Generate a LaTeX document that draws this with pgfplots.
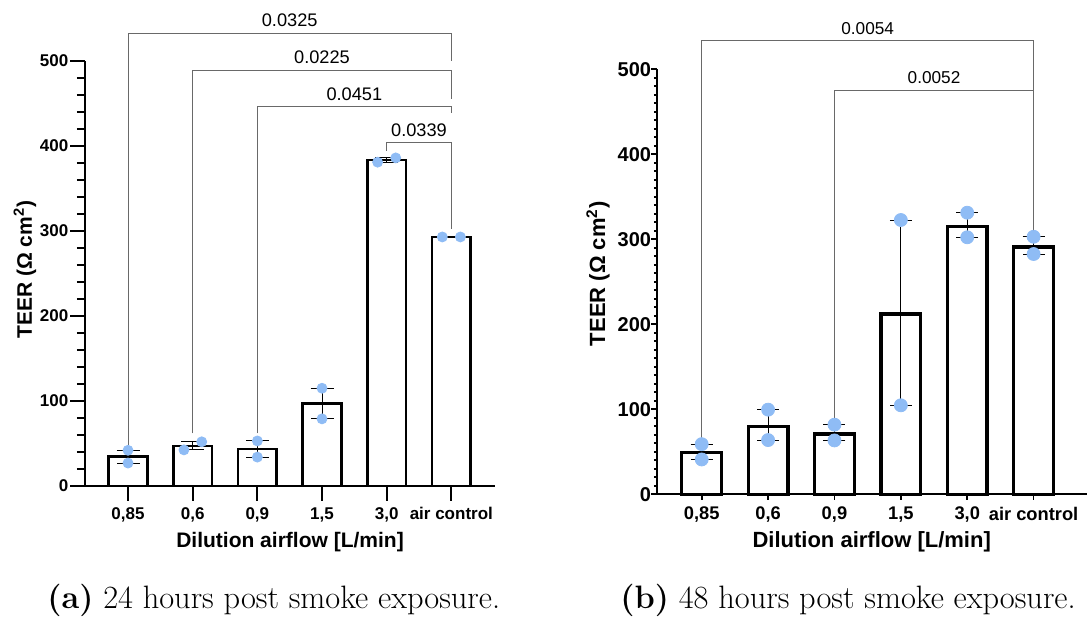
\documentclass[border=0pt]{standalone}
\usepackage{fontspec}
\newfontfamily\arial{Liberation Sans}
\usepackage{pgfplots}
\pgfplotsset{compat=1.18}
\definecolor{dot}{RGB}{143,188,245}
\definecolor{brk}{RGB}{105,105,105}
\begin{document}
\begin{tikzpicture}
\useasboundingbox (0,0) rectangle (544pt,308.5pt);
% ---------------- panel (a) ----------------
\begin{axis}[
  at={(42.5pt,65.5pt)}, anchor=south west,
  scale only axis, width=205pt, height=212.5pt,
  xmin=-0.665, xmax=5.675, ymin=0, ymax=500,
  axis x line*=bottom, axis y line*=left,
  axis line style={line width=1pt, -},
  tick align=outside,
  every tick/.style={black, line width=1pt},
  major tick length=7.3pt, minor tick length=4pt,
  xtick={0,1,2,3,4,5},
  xticklabels={{0,85},{0,6},{0,9},{1,5},{3,0},{air control}},
  ytick={0,100,200,300,400,500},
  yticklabels={0,100,200,300,400,500},
  minor y tick num=4,
  ticklabel style={font=\arial\bfseries\fontsize{8.5}{10}\selectfont},
  yticklabel style={xshift=2.5pt},
  xlabel={Dilution airflow [L/min]},
  ylabel={TEER (Ω cm\textsuperscript{2})},
  label style={font=\arial\bfseries\fontsize{10.5}{12}\selectfont},
  xlabel style={at={(axis description cs:0.5,0)}, anchor=center, yshift=-28.2pt},
  ylabel style={at={(axis description cs:-0.1463,0.509)}, anchor=center},
  clip=false,
]
\addplot[ybar, bar width=0.6, fill=white, draw=black, line width=1.35pt, line join=miter]
  coordinates {(0,34.5) (1,47) (2,43.5) (3,97) (4,383.5) (5,293)};
\addplot[draw=none, mark=none, error bars/.cd, y dir=both, y explicit,
  error mark=-, error bar style={draw=black, line width=0.5pt},
  error mark options={draw=black, line width=0.5pt, mark size=5.75pt, rotate=90}]
  coordinates {(0,34.5) += (0,7.5) -= (0,7.5)
               (1,47) += (0,5) -= (0,4.5)
               (2,43.5) += (0,9.5) -= (0,9.5)
               (3,97) += (0,18) -= (0,18)
               (4,383.5) += (0,2.5) -= (0,2.5)
               (5,293) += (0,0.5) -= (0,0.5)};
\addplot[only marks, mark=*, mark size=2.5pt, color=dot]
  coordinates {(0,42) (0,27) (0.865,42.5) (1.14,52) (2,53) (2,34) (3,115) (3,79)
               (3.86,381) (4.14,386) (4.86,293) (5.14,293)};
% brackets
\addplot[brk, line width=0.5pt, mark=none] coordinates {(0,48) (0,532.6) (5,532.6) (5,499.6)};
\addplot[brk, line width=0.5pt, mark=none] coordinates {(1,62) (1,489.4) (5,489.4) (5,455.6)};
\addplot[brk, line width=0.5pt, mark=none] coordinates {(2,62) (2,446) (5,446) (5,438.4)};
\addplot[brk, line width=0.5pt, mark=none] coordinates {(4,394) (4,404) (5,404) (5,302)};
\node[font=\arial\fontsize{9.1}{10}\selectfont, anchor=base, yshift=3.3pt] at (axis cs:2.5,532.6) {0.0325};
\node[font=\arial\fontsize{9.1}{10}\selectfont, anchor=base, yshift=3.3pt] at (axis cs:3,489.4) {0.0225};
\node[font=\arial\fontsize{9.1}{10}\selectfont, anchor=base, yshift=3.3pt] at (axis cs:3.5,446) {0.0451};
\node[font=\arial\fontsize{9.1}{10}\selectfont, anchor=base, yshift=3.3pt] at (axis cs:4.5,404) {0.0339};
\end{axis}
% ---------------- panel (b) ----------------
\begin{axis}[
  at={(328.35pt,61.35pt)}, anchor=south west,
  scale only axis, width=215pt, height=212.5pt,
  xmin=-0.678, xmax=5.80, ymin=0, ymax=500,
  axis x line*=bottom, axis y line*=left,
  axis line style={line width=0.85pt, -},
  tick align=outside,
  every tick/.style={black, line width=0.85pt},
  major tick length=2.8pt, minor tick length=1.4pt,
  xtick={0,1,2,3,4,5},
  xticklabels={{0,85},{0,6},{0,9},{1,5},{3,0},{air control}},
  ytick={0,100,200,300,400,500},
  yticklabels={0,100,200,300,400,500},
  minor y tick num=9,
  xticklabel style={font=\arial\bfseries\fontsize{9.15}{10}\selectfont},
  yticklabel style={font=\arial\bfseries\fontsize{10}{12}\selectfont, xshift=3.5pt},
  xlabel={Dilution airflow [L/min]},
  ylabel={TEER (Ω cm\textsuperscript{2})},
  label style={font=\arial\bfseries\fontsize{11}{13}\selectfont},
  xlabel style={at={(axis description cs:0.5,0)}, anchor=center, yshift=-23.7pt},
  ylabel style={at={(axis description cs:-0.1365,0.519)}, anchor=center},
  clip=false,
]
\addplot[ybar, bar width=0.6, fill=white, draw=black, line width=1.65pt, line join=miter]
  coordinates {(0,49) (1,80) (2,71) (3,212) (4,315) (5,291)};
\addplot[draw=none, mark=none, error bars/.cd, y dir=both, y explicit,
  error mark=-, error bar style={draw=black, line width=0.5pt},
  error mark options={draw=black, line width=0.5pt, mark size=5.5pt, rotate=90}]
  coordinates {(0,49) += (0,10) -= (0,8)
               (1,80) += (0,19.6) -= (0,16.2)
               (2,71) += (0,11) -= (0,7.6)
               (3,212) += (0,110.7) -= (0,107.3)
               (4,315) += (0,16.3) -= (0,12.6)
               (5,291) += (0,12) -= (0,8.3)};
\addplot[only marks, mark=*, mark size=3.25pt, color=dot]
  coordinates {(0,59) (0,41) (1,99.6) (1,63.8) (2,81.9) (2,63.4) (3,322.7) (3,104.7)
               (4,331.3) (4,302.4) (5,303) (5,282.7)};
% brackets
\addplot[brk, line width=0.5pt, mark=none] coordinates {(0,64) (0,533.6) (5,533.6) (5,358)};
\addplot[brk, line width=0.5pt, mark=none] coordinates {(2,87) (2,475.6) (5,475.6) (5,310)};
\node[font=\arial\fontsize{8.6}{10}\selectfont, anchor=base, yshift=3.3pt] at (axis cs:2.5,533.6) {0.0054};
\node[font=\arial\fontsize{8.6}{10}\selectfont, anchor=base, yshift=3.3pt] at (axis cs:3.5,475.6) {0.0052};
\end{axis}
% captions
\node[anchor=base west, inner sep=0pt, font=\fontsize{16.2}{19}\selectfont] at (23.5pt,4.35pt) {\textbf{(a)} 24 hours post smoke exposure.};
\node[anchor=base west, inner sep=0pt, font=\fontsize{16.2}{19}\selectfont] at (310pt,4.35pt) {\textbf{(b)} 48 hours post smoke exposure.};
\end{tikzpicture}
\end{document}
